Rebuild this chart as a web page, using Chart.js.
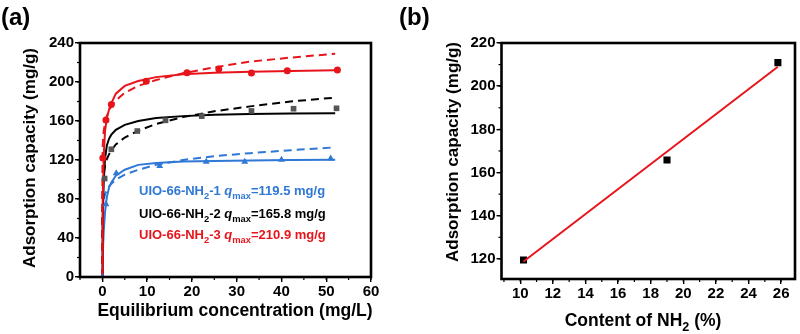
<!DOCTYPE html>
<html lang="en">
<head>
  <meta charset="UTF-8">
  <title>Adsorption isotherms</title>
  <script src="https://cdn.jsdelivr.net/npm/chart.js"></script>
  <style>
    html, body { margin: 0; padding: 0; background: #fff; }
    .row { display: flex; width: 800px; height: 334px; }
    canvas { display: block; }
  </style>
</head>
<body>
  <div class="row">
    <canvas id="chartA" width="400" height="334"></canvas>
    <canvas id="chartB" width="400" height="334"></canvas>
  </div>

  <script>
    const nh1X = [0, 0.8, 3.1, 12.8, 23.2, 31.8, 40.0, 51.0];
    const nh1Y = [0, 74.5, 106.3, 113.8, 118.3, 118.3, 120.2, 121.5];
    const nh2X = [0.5, 2.0, 7.8, 14.1, 22.2, 33.3, 42.7, 52.3];
    const nh2Y = [101, 131, 149.7, 160.7, 165, 170.3, 172.6, 173];
    const nh3X = [0.1, 0.8, 2.0, 9.8, 18.9, 26.0, 33.3, 41.3, 52.5];
    const nh3Y = [122, 161, 177, 200.7, 209.5, 213.3, 209.2, 211.6, 212.3];

    // ---- (a) fitted curves (solid = Langmuir, dashed = Freundlich)
    const fitX = [0, 0.02, 0.1, 0.3, 0.6, 1, 1.5, 2, 3, 5, 8, 12, 18, 25, 33, 42, 52];
    const lang1 = [0, 5, 21, 47, 67, 82, 92, 97, 104, 110, 115, 117, 118.5, 119, 119.5, 120, 120.2];
    const lang2 = [0, 14, 55, 98, 122, 135, 142, 146, 151, 156, 160, 163, 165, 166.5, 167.2, 167.6, 168];
    const lang3 = [0, 20, 75, 125, 150, 163, 172, 178, 188, 196, 201, 205, 208, 209.5, 210.5, 211.3, 212];
    const freu1 = [0, 60, 71, 79, 85, 89, 93, 95.5, 100, 105, 110, 115, 120, 124, 127, 130, 133];
    const freu2 = [0, 80, 94, 106, 114, 121, 126, 130, 136, 143, 150, 157, 164, 170, 175, 180, 184];
    const freu3 = [0, 120, 137, 150, 158, 165, 171, 175, 181, 189, 196, 202, 209, 215, 221, 225, 229];

    // ---- (b) capacity vs NH2 content
    const contentX = [10.2, 19.0, 25.8];
    const capacityY = [119.5, 165.8, 210.9];
    const lineX = [10.2, 25.8];
    const lineY = [118.8, 209.0];

    // ---- tick labels
    const aTicksX = [0, 10, 20, 30, 40, 50, 60];
    const aTicksY = [0, 40, 80, 120, 160, 200, 240];
    const bTicksX = [10, 12, 14, 16, 18, 20, 22, 24, 26];
    const bTicksY = [120, 140, 160, 180, 200, 220];

    const BLUE = '#2f78d6';
    const RED = '#e8141b';
    const GREY = '#555555';
    const FONT = '"Liberation Sans", Arial, sans-serif';

    const pts = (xs, ys) => xs.map((x, i) => ({ x: x, y: ys[i] }));

    // draw a run of text pieces, some subscripted / italic
    function drawRich(ctx, parts, x, y, size, color, align) {
      const font = (p) => (p.it ? 'italic ' : '') + 'bold ' + (p.sub ? size * 0.72 : size) + 'px ' + FONT;
      let total = 0;
      parts.forEach(p => { ctx.font = font(p); total += ctx.measureText(p.t).width; });
      let cx = align === 'center' ? x - total / 2 : x;
      ctx.fillStyle = color;
      ctx.textBaseline = 'alphabetic';
      ctx.textAlign = 'left';
      parts.forEach(p => {
        ctx.font = font(p);
        ctx.fillText(p.t, cx, p.sub ? y + size * 0.28 : y);
        cx += ctx.measureText(p.t).width;
      });
    }

    // frame + minor ticks
    const framePlugin = {
      id: 'frame',
      afterDraw(chart, args, opts) {
        const { ctx, chartArea: a } = chart;
        ctx.save();
        ctx.strokeStyle = '#000';
        ctx.lineWidth = 1.2;
        ['x', 'y'].forEach(id => {
          const s = chart.scales[id];
          const step = opts[id + 'Minor'];
          for (let v = Math.ceil(s.min / step) * step; v <= s.max + 1e-9; v += step) {
            const p = s.getPixelForValue(v);
            ctx.beginPath();
            if (id === 'x') { ctx.moveTo(p, a.bottom); ctx.lineTo(p, a.bottom + 3); }
            else { ctx.moveTo(a.left, p); ctx.lineTo(a.left - 3, p); }
            ctx.stroke();
          }
        });
        ctx.lineWidth = 2.6;
        ctx.strokeRect(a.left, a.top, a.right - a.left, a.bottom - a.top);
        ctx.restore();
      }
    };

    // titles and labels
    const textPlugin = {
      id: 'texts',
      afterDraw(chart, args, opts) {
        const ctx = chart.ctx;
        opts.items.forEach(it => {
          ctx.save();
          ctx.translate(it.x, it.y);
          if (it.rotate) ctx.rotate(-Math.PI / 2);
          drawRich(ctx, it.parts, 0, 0, it.size, it.color || '#000', it.align);
          ctx.restore();
        });
      }
    };

    Chart.register(framePlugin, textPlugin);

    function axis(min, max, tickValues, fit) {
      return {
        type: 'linear', min: min, max: max,
        afterFit: fit,
        afterBuildTicks: s => { s.ticks = tickValues.map(v => ({ value: v })); },
        border: { display: false },
        grid: { drawOnChartArea: false, drawTicks: true, tickLength: 5, color: '#000', lineWidth: 1.4 },
        ticks: { color: '#000', padding: 1, font: { family: FONT, size: 15, weight: 'bold' } }
      };
    }

    function curve(data, color, dashed, order) {
      return { data: data, showLine: true, borderColor: color, borderWidth: 2, pointRadius: 0,
               borderDash: dashed ? [8, 5] : [], tension: 0, order: order };
    }
    function marks(data, color, style, r, order) {
      return { data: data, showLine: false, pointStyle: style, pointRadius: r, pointBorderWidth: 0,
               backgroundColor: color, borderColor: color, order: order };
    }

    const common = {
      responsive: false, animation: false, devicePixelRatio: 1,
      plugins: { legend: { display: false }, tooltip: { enabled: false } }
    };

    new Chart(document.getElementById('chartA'), {
      type: 'scatter',
      data: {
        datasets: [
          marks(pts(nh1X, nh1Y), BLUE, 'triangle', 4, 0),
          marks(pts(nh3X, nh3Y), RED, 'circle', 3.5, 1),
          marks(pts(nh2X, nh2Y), GREY, 'rect', 4, 2),
          curve(pts(fitX, lang3), RED, false, 3),
          curve(pts(fitX, freu3), RED, true, 4),
          curve(pts(fitX, lang2), '#000', false, 5),
          curve(pts(fitX, freu2), '#000', true, 6),
          curve(pts(fitX, lang1), BLUE, false, 7),
          curve(pts(fitX, freu1), BLUE, true, 8)
        ]
      },
      options: Object.assign({}, common, {
        layout: { padding: { left: 0, right: 29, top: 43, bottom: 0 } },
        scales: {
          x: axis(-5, 60, aTicksX, s => { s.height = 57; }),
          y: axis(0, 240, aTicksY, s => { s.width = 80; })
        },
        plugins: Object.assign({}, common.plugins, {
          frame: { xMinor: 5, yMinor: 20 },
          texts: { items: [
            { x: 1, y: 25, size: 24, parts: [{ t: '(a)' }] },
            { x: 35, y: 158, size: 17, rotate: true, align: 'center', parts: [{ t: 'Adsorption capacity (mg/g)' }] },
            { x: 235, y: 316, size: 17.5, align: 'center', parts: [{ t: 'Equilibrium concentration (mg/L)' }] },
            { x: 139, y: 195, size: 13, color: BLUE, parts: [{ t: 'UIO-66-NH' }, { t: '2', sub: true }, { t: '-1 ' }, { t: 'q', it: true }, { t: 'max', sub: true }, { t: '=119.5 mg/g' }] },
            { x: 139, y: 218, size: 13, color: '#000', parts: [{ t: 'UIO-66-NH' }, { t: '2', sub: true }, { t: '-2 ' }, { t: 'q', it: true }, { t: 'max', sub: true }, { t: '=165.8 mg/g' }] },
            { x: 139, y: 239, size: 13, color: RED, parts: [{ t: 'UIO-66-NH' }, { t: '2', sub: true }, { t: '-3 ' }, { t: 'q', it: true }, { t: 'max', sub: true }, { t: '=210.9 mg/g' }] }
          ] }
        })
      })
    });

    new Chart(document.getElementById('chartB'), {
      type: 'scatter',
      data: {
        datasets: [
          marks(pts(contentX, capacityY), '#000', 'rect', 5, 1),
          curve(pts(lineX, lineY), RED, false, 0)
        ]
      },
      options: Object.assign({}, common, {
        layout: { padding: { left: 0, right: 4, top: 43, bottom: 0 } },
        scales: {
          x: axis(8.85, 26.85, bTicksX, s => { s.height = 55; }),
          y: axis(110.7, 220, bTicksY, s => { s.width = 101.5; })
        },
        plugins: Object.assign({}, common.plugins, {
          frame: { xMinor: 1, yMinor: 10 },
          texts: { items: [
            { x: -1, y: 25, size: 24, parts: [{ t: '(b)' }] },
            { x: 58, y: 152, size: 17, rotate: true, align: 'center', parts: [{ t: 'Adsorption capacity (mg/g)' }] },
            { x: 243, y: 326, size: 17.5, align: 'center', parts: [{ t: 'Content of NH' }, { t: '2', sub: true }, { t: ' (%)' }] }
          ] }
        })
      })
    });
  </script>
</body>
</html>
